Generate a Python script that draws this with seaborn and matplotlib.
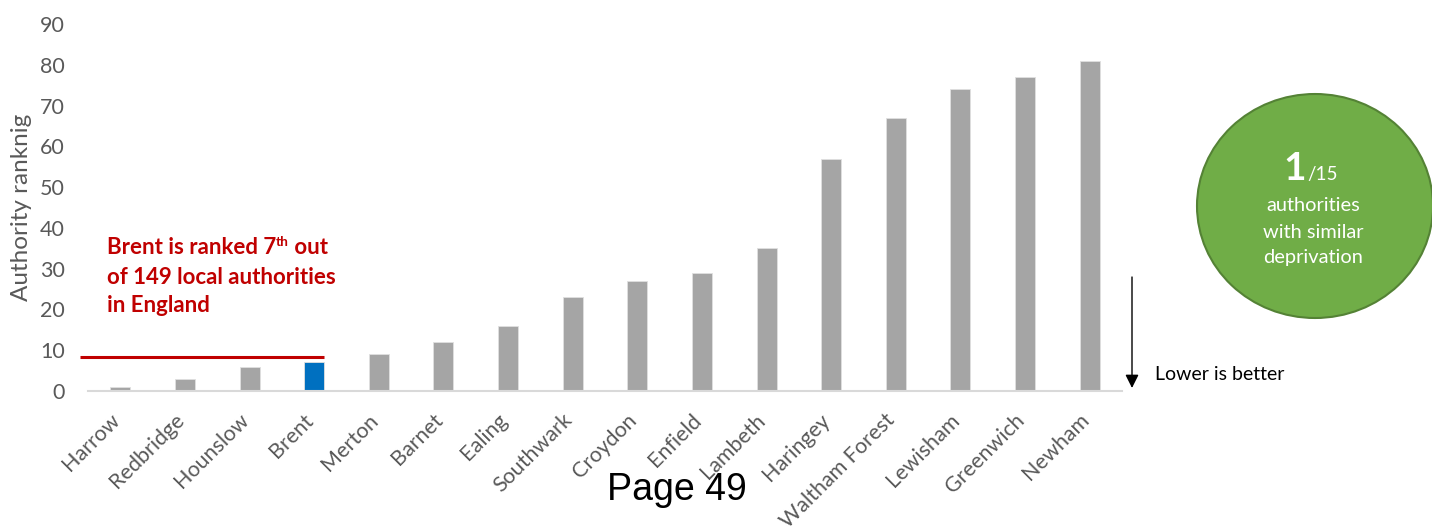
import matplotlib
matplotlib.use("Agg")
import matplotlib.pyplot as plt
import matplotlib.transforms as mtransforms
import seaborn as sns
import pandas as pd
from matplotlib.patches import Ellipse

authorities = ["Harrow", "Redbridge", "Hounslow", "Brent", "Merton", "Barnet", "Ealing",
               "Southwark", "Croydon", "Enfield", "Lambeth", "Haringey", "Waltham Forest",
               "Lewisham", "Greenwich", "Newham"]
rankings = [1, 3, 6, 7, 9, 12, 16, 23, 27, 29, 35, 57, 67, 74, 77, 81]
highlight = "Brent"
brent_line_level = 8.3
yticks = [0, 10, 20, 30, 40, 50, 60, 70, 80, 90]

sns.set_theme(style="white")
plt.rcParams['font.family'] = ['Lato', 'DejaVu Sans']

W, H = 1432, 529
fig = plt.figure(figsize=(W / 100, H / 100), dpi=100)
ax = fig.add_axes([88 / W, (H - 391) / H, (1122 - 88) / W, (391 - 24) / H])

df = pd.DataFrame({"authority": authorities, "rank": rankings})
pal = {a: ("#0070C0" if a == highlight else "#A5A5A5") for a in authorities}
sns.barplot(data=df, x="authority", y="rank", hue="authority", palette=pal,
            legend=False, width=0.31, ax=ax, saturation=1,
            edgecolor="#E0E0E0", linewidth=0.6)

ax.set_xlim(-0.5, len(authorities) - 0.5)
ax.set_ylim(0, 90)
ax.set_yticks(yticks)
ax.set_yticklabels([str(v) for v in yticks], fontsize=15.5, color="#595959")
ax.tick_params(axis="y", length=0, pad=16.5)
ax.tick_params(axis="x", length=0, pad=0)
ax.set_xticks(range(len(authorities)))
ax.set_xticklabels(authorities, rotation=45, ha="right", va="center",
                   rotation_mode="anchor", fontsize=15.5, color="#595959")
offset = mtransforms.ScaledTranslation(-4 / 100, -26 / 100, fig.dpi_scale_trans)
for lab in ax.get_xticklabels():
    lab.set_transform(lab.get_transform() + offset)
ax.set_xlabel("")
ax.set_ylabel("Authority ranknig", fontsize=17.5, color="#595959")
ax.yaxis.set_label_coords(-0.054, 0.5)
for s in ["top", "right", "left"]:
    ax.spines[s].set_visible(False)
ax.spines["bottom"].set_color("#D9D9D9")
ax.spines["bottom"].set_linewidth(1.5)

# red reference line
ax.plot([-0.62, 3.15], [brent_line_level, brent_line_level], color="#C00000",
        lw=2.2, clip_on=False, solid_capstyle="butt")

# red annotation with superscript
red = "#C00000"
fs_red = 16
x0 = 107
fig.canvas.draw()
r = fig.canvas.get_renderer()
t1 = fig.text(x0 / W, 1 - 248 / H, "Brent is ranked 7", color=red, fontsize=fs_red,
              fontweight="bold", va="center", ha="left")
bb = t1.get_window_extent(renderer=r)
t2 = fig.text(bb.x1 / W, (H - 248 + 6) / H, "th", color=red, fontsize=fs_red * 0.62,
              fontweight="bold", va="center", ha="left")
bb2 = t2.get_window_extent(renderer=r)
fig.text(bb2.x1 / W, 1 - 248 / H, " out", color=red, fontsize=fs_red,
         fontweight="bold", va="center", ha="left")
fig.text(x0 / W, 1 - 277 / H, "of 149 local authorities", color=red, fontsize=fs_red,
         fontweight="bold", va="center", ha="left")
fig.text(x0 / W, 1 - 306 / H, "in England", color=red, fontsize=fs_red,
         fontweight="bold", va="center", ha="left")

# arrow "Lower is better"
ax.annotate("", xy=(1132, H - 388), xycoords="figure pixels",
            xytext=(1132, H - 277), textcoords="figure pixels",
            arrowprops=dict(arrowstyle="-|>", color="black", lw=1.0,
                            mutation_scale=20, shrinkA=0, shrinkB=0))
fig.text(1155 / W, 1 - 374 / H, "Lower is better", fontsize=14, color="black",
         va="center", ha="left")

# green circle
circ = Ellipse((1315, H - 206), 236, 224, transform=None, facecolor="#70AD47",
               edgecolor="#548235", lw=1.5, zorder=5)
fig.add_artist(circ)
fig.text(1306 / W, 1 - 180 / H, "1", fontsize=28, fontweight="bold", color="white",
         ha="right", va="baseline", zorder=6)
fig.text(1307 / W, 1 - 180 / H, "/15", fontsize=13.5, color="white",
         ha="left", va="baseline", zorder=6)
for txt, yy in [("authorities", 206), ("with similar", 232), ("deprivation", 257)]:
    fig.text(1313 / W, 1 - yy / H, txt, fontsize=14.4, color="white",
             ha="center", va="center", zorder=6)

# page footer
fig.text(677 / W, 1 - 490 / H, "Page 49", fontsize=27, color="black",
         family="Liberation Sans", ha="center", va="center", zorder=10)

fig.savefig("out.png", dpi=100)
